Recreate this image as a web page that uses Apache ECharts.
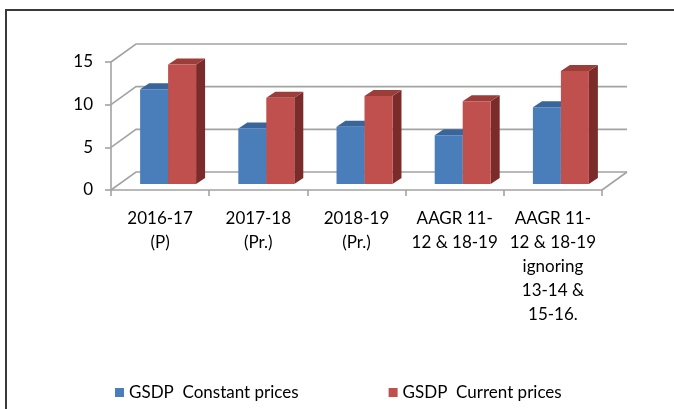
<!DOCTYPE html>
<html>
<head>
<meta charset="utf-8">
<script src="https://cdn.jsdelivr.net/npm/echarts@6/dist/echarts.min.js"></script>
<style>
  html, body { margin: 0; padding: 0; background: #fff; }
  #chart { width: 674px; height: 409px; }
</style>
</head>
<body>
<div id="chart"></div>
<script>
const categories = [
  "2016-17\n(P)",
  "2017-18\n(Pr.)",
  "2018-19\n(Pr.)",
  "AAGR 11-\n12 & 18-19",
  "AAGR 11-\n12 & 18-19\nignoring\n13-14 &\n15-16."
];
const constantPrices = [11.1, 6.5, 6.7, 5.7, 9.0];
const currentPrices = [14.0, 10.1, 10.3, 9.7, 13.25];
const yTicks = [0, 5, 10, 15];
const seriesNames = ["GSDP  Constant prices", "GSDP  Current prices"];

const FONT = "Lato, 'Liberation Sans', sans-serif";
const TEXT_COLOR = "#000";
const GRID_COLOR = "#A3A3A3";

// 3D look: depth of the floor and of each bar, in px
const FLOOR_DX = 25;
const FLOOR_DY = -18;
const BAR_SHIFT_DX = 8;
const BAR_SHIFT_DY = -6;
const BAR_DEPTH_DX = 9;
const BAR_DEPTH_DY = -6;
const BAR_WIDTH_RATIO = 0.285;

const FACES = [
  { front: "#4A7EBB", top: "#3A659A", side: "#2F527D" },
  { front: "#C0504D", top: "#9C3D3A", side: "#7B2C2A" }
];

function barRenderer(slot) {
  const faces = FACES[slot];
  return (params, api) => {
    const idx = api.value(0);
    const val = api.value(1);
    const top = api.coord([idx, val]);
    const base = api.coord([idx, 0]);
    const band = api.size([1, 0])[0];
    const w = band * BAR_WIDTH_RATIO;

    const x0 = (slot === 0 ? top[0] - w : top[0]) + BAR_SHIFT_DX;
    const x1 = x0 + w;
    const yT = top[1] + BAR_SHIFT_DY;
    const yB = base[1] + BAR_SHIFT_DY;

    return {
      type: "group",
      children: [
        {
          type: "polygon",
          shape: { points: [[x1, yT], [x1 + BAR_DEPTH_DX, yT + BAR_DEPTH_DY], [x1 + BAR_DEPTH_DX, yB + BAR_DEPTH_DY], [x1, yB]] },
          style: { fill: faces.side }
        },
        {
          type: "polygon",
          shape: { points: [[x0, yT], [x1, yT], [x1 + BAR_DEPTH_DX, yT + BAR_DEPTH_DY], [x0 + BAR_DEPTH_DX, yT + BAR_DEPTH_DY]] },
          style: { fill: faces.top }
        },
        {
          type: "rect",
          shape: { x: x0, y: yT, width: w, height: yB - yT },
          style: { fill: faces.front }
        }
      ]
    };
  };
}

function wallRenderer(params, api) {
  const val = api.value(1);
  const band = api.size([1, 0])[0];
  const left = api.coord([0, val]);
  const right = api.coord([categories.length - 1, val]);
  const xL = left[0] - band / 2;
  const xR = right[0] + band / 2;
  const y = left[1];
  const style = { stroke: GRID_COLOR, lineWidth: 1.6, fill: null };

  const children = [
    {
      type: "polyline",
      shape: { points: [[xL, y], [xL + FLOOR_DX, y + FLOOR_DY], [xR + FLOOR_DX, y + FLOOR_DY]] },
      style
    }
  ];
  if (val === 0) {
    children.push({
      type: "line",
      shape: { x1: xR, y1: y, x2: xR + FLOOR_DX, y2: y + FLOOR_DY },
      style
    });
  }
  return { type: "group", children };
}

const chart = echarts.init(document.getElementById("chart"), null, { renderer: "canvas" });

chart.setOption({
  animation: false,
  textStyle: { fontFamily: FONT },
  graphic: [
    {
      type: "polyline",
      shape: { points: [[6, 409], [6, 10], [674, 10]] },
      style: { stroke: "#3A3A3A", lineWidth: 2, fill: null },
      silent: true
    }
  ],
  grid: { left: 111, right: 72, top: 62, bottom: 219 },
  legend: {
    top: 379,
    left: 110,
    itemWidth: 9,
    itemHeight: 9,
    itemGap: 90,
    icon: "rect",
    textStyle: { fontFamily: FONT, fontSize: 17, color: TEXT_COLOR },
    data: seriesNames
  },
  xAxis: {
    type: "category",
    data: categories,
    axisLine: { lineStyle: { color: GRID_COLOR, width: 1.6 } },
    axisTick: { show: true, length: 6, interval: 0, lineStyle: { color: GRID_COLOR, width: 1.6 } },
    axisLabel: {
      interval: 0,
      margin: 17,
      fontFamily: FONT,
      fontSize: 17,
      lineHeight: 24,
      color: TEXT_COLOR
    },
    splitLine: { show: false }
  },
  yAxis: {
    type: "value",
    min: 0,
    max: 15,
    interval: 5,
    axisLine: { show: true, lineStyle: { color: GRID_COLOR, width: 1.6 } },
    axisTick: { show: true, length: 6, lineStyle: { color: GRID_COLOR, width: 1.6 } },
    axisLabel: { margin: 18, fontFamily: FONT, fontSize: 17, color: TEXT_COLOR },
    splitLine: { show: false }
  },
  series: [
    {
      type: "custom",
      name: "wall",
      silent: true,
      z: 1,
      renderItem: wallRenderer,
      encode: { x: 0, y: 1 },
      data: yTicks.map((v) => [0, v])
    },
    {
      type: "custom",
      name: seriesNames[0],
      z: 3,
      itemStyle: { color: FACES[0].front },
      renderItem: barRenderer(0),
      encode: { x: 0, y: 1 },
      data: constantPrices.map((v, i) => [i, v])
    },
    {
      type: "custom",
      name: seriesNames[1],
      z: 4,
      itemStyle: { color: FACES[1].front },
      renderItem: barRenderer(1),
      encode: { x: 0, y: 1 },
      data: currentPrices.map((v, i) => [i, v])
    }
  ]
});
</script>
</body>
</html>
